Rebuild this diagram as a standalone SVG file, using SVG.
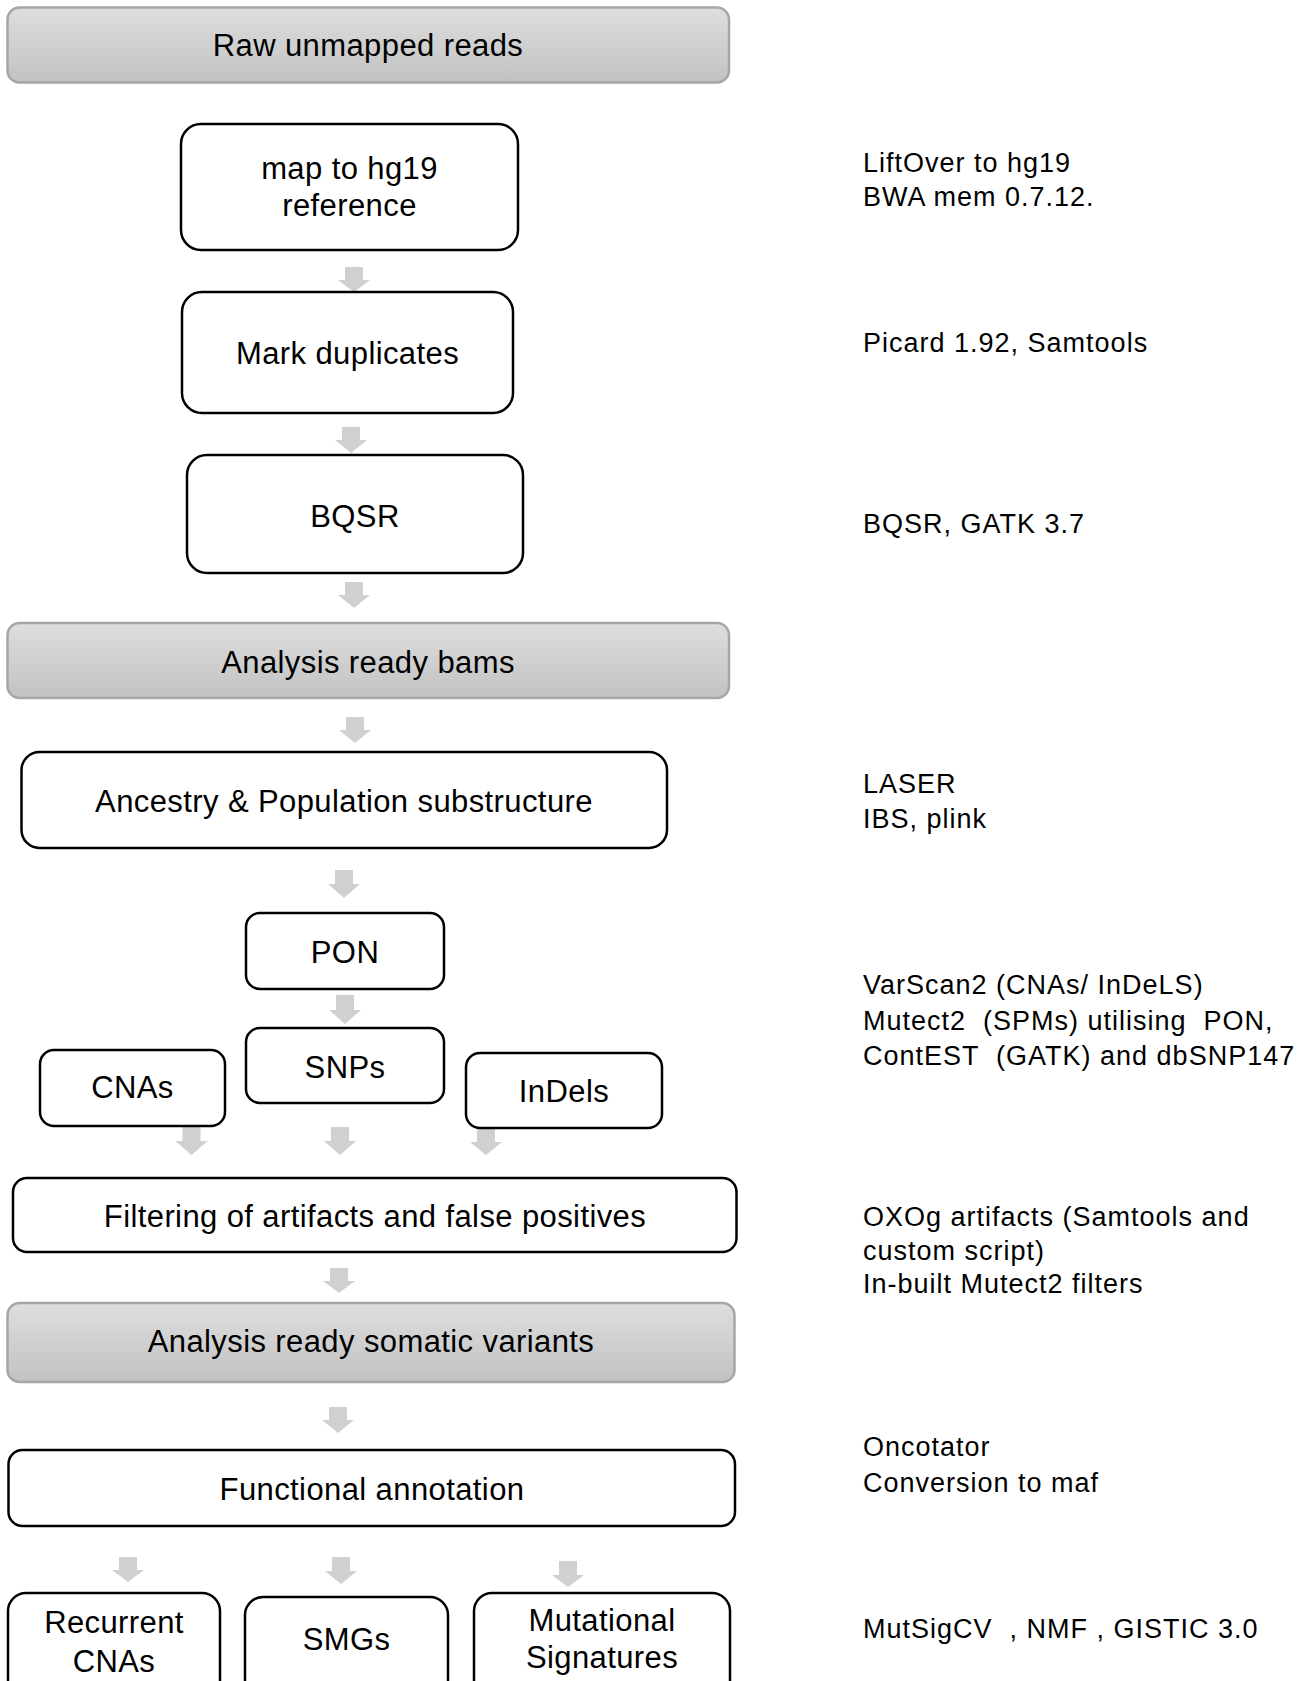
<svg xmlns="http://www.w3.org/2000/svg" width="1308" height="1681" viewBox="0 0 1308 1681">
<defs>
<linearGradient id="gray" x1="0" y1="0" x2="0" y2="1">
<stop offset="0" stop-color="#dedede"/>
<stop offset="1" stop-color="#c2c2c2"/>
</linearGradient>
<style>
.hdr{fill:url(#gray);stroke:#a6a6a6;stroke-width:2.5}
.box{fill:#ffffff;stroke:#000000;stroke-width:2.5}
.lbl{font-family:"Liberation Sans",Arial,sans-serif;font-size:31px;fill:#000;text-anchor:middle;letter-spacing:0.4px}
.note{font-family:"Liberation Sans",Arial,sans-serif;font-size:27px;fill:#000;letter-spacing:1px;white-space:pre}
.arr{fill:#d0d0d0}
</style>
</defs>
<rect width="1308" height="1681" fill="#ffffff"/>

<g id="connectors">
<path class="arr" d="M345,267 H363 V280 H370 L354,292 L338,280 H345 Z"/>
<path class="arr" d="M342,427 H360 V440 H367 L351,453 L335,440 H342 Z"/>
<path class="arr" d="M345,582 H363 V595 H370 L354,608 L338,595 H345 Z"/>
<path class="arr" d="M346,717 H364 V730 H371 L355,743 L339,730 H346 Z"/>
<path class="arr" d="M335,870 H353 V884 H360 L344,898 L328,884 H335 Z"/>
<path class="arr" d="M336,995 H354 V1010 H361 L345,1024 L329,1010 H336 Z"/>
<path class="arr" d="M182.5,1127 H200.5 V1141 H207.5 L191.5,1155 L175.5,1141 H182.5 Z"/>
<path class="arr" d="M331,1127 H349 V1141 H356 L340,1155 L324,1141 H331 Z"/>
<path class="arr" d="M477,1128 H495 V1142 H502 L486,1155 L470,1142 H477 Z"/>
<path class="arr" d="M330,1268 H348 V1281 H355 L339,1293 L323,1281 H330 Z"/>
<path class="arr" d="M329,1407 H347 V1420 H354 L338,1433 L322,1420 H329 Z"/>
<path class="arr" d="M119,1557 H137 V1570 H144 L128,1582 L112,1570 H119 Z"/>
<path class="arr" d="M332,1557 H350 V1571 H357 L341,1584 L325,1571 H332 Z"/>
<path class="arr" d="M559,1561 H577 V1575 H584 L568,1587 L552,1575 H559 Z"/>
</g>

<g id="raw">
<rect class="hdr" x="7.5" y="7.5" width="721.5" height="75" rx="12"/>
<text class="lbl" x="368" y="56">Raw unmapped reads</text>
</g>
<g id="map">
<rect class="box" x="181" y="124" width="337" height="126" rx="20"/>
<text class="lbl" x="349.5" y="179">map to hg19</text>
<text class="lbl" x="349.5" y="216">reference</text>
</g>
<g id="markdup">
<rect class="box" x="182" y="292" width="331" height="121" rx="20"/>
<text class="lbl" x="347.5" y="364">Mark duplicates</text>
</g>
<g id="bqsr">
<rect class="box" x="187" y="455" width="336" height="118" rx="20"/>
<text class="lbl" x="355" y="527">BQSR</text>
</g>
<g id="bams">
<rect class="hdr" x="7.5" y="623" width="721.5" height="75" rx="12"/>
<text class="lbl" x="368" y="673">Analysis ready bams</text>
</g>
<g id="ancestry">
<rect class="box" x="21.5" y="752" width="645.5" height="96" rx="18"/>
<text class="lbl" x="344" y="812">Ancestry &amp; Population substructure</text>
</g>
<g id="pon">
<rect class="box" x="246" y="913" width="198" height="76" rx="14"/>
<text class="lbl" x="345" y="963">PON</text>
</g>
<g id="snps">
<rect class="box" x="246" y="1028" width="198" height="75" rx="14"/>
<text class="lbl" x="345" y="1078">SNPs</text>
</g>
<g id="cnas">
<rect class="box" x="40" y="1050" width="185" height="76" rx="14"/>
<text class="lbl" x="132.5" y="1098">CNAs</text>
</g>
<g id="indels">
<rect class="box" x="466" y="1053" width="196" height="75" rx="14"/>
<text class="lbl" x="564" y="1102">InDels</text>
</g>
<g id="filtering">
<rect class="box" x="13" y="1178" width="723.5" height="74" rx="14"/>
<text class="lbl" x="375" y="1227">Filtering of artifacts and false positives</text>
</g>
<g id="somatic">
<rect class="hdr" x="7.5" y="1303" width="727" height="79" rx="12"/>
<text class="lbl" x="371" y="1352">Analysis ready somatic variants</text>
</g>
<g id="functional">
<rect class="box" x="8.5" y="1450" width="726.5" height="76" rx="14"/>
<text class="lbl" x="372" y="1500">Functional annotation</text>
</g>
<g id="recurrent">
<rect class="box" x="8" y="1593" width="212" height="130" rx="18"/>
<text class="lbl" x="114" y="1633">Recurrent</text>
<text class="lbl" x="114" y="1672">CNAs</text>
</g>
<g id="smgs">
<rect class="box" x="245" y="1597" width="203" height="130" rx="18"/>
<text class="lbl" x="346.5" y="1650">SMGs</text>
</g>
<g id="mutsig">
<rect class="box" x="474" y="1593" width="256" height="130" rx="18"/>
<text class="lbl" x="602" y="1631">Mutational</text>
<text class="lbl" x="602" y="1668">Signatures</text>
</g>

<g id="notes">
<text class="note" x="863" y="172">LiftOver to hg19</text>
<text class="note" x="863" y="206">BWA mem 0.7.12.</text>
<text class="note" x="863" y="352">Picard 1.92, Samtools</text>
<text class="note" x="863" y="533">BQSR, GATK 3.7</text>
<text class="note" x="863" y="793">LASER</text>
<text class="note" x="863" y="828">IBS, plink</text>
<text class="note" x="863" y="994">VarScan2 (CNAs/ InDeLS)</text>
<text class="note" x="863" y="1030">Mutect2  (SPMs) utilising  PON,</text>
<text class="note" x="863" y="1065">ContEST  (GATK) and dbSNP147</text>
<text class="note" x="863" y="1226">OXOg artifacts (Samtools and</text>
<text class="note" x="863" y="1260">custom script)</text>
<text class="note" x="863" y="1293">In-built Mutect2 filters</text>
<text class="note" x="863" y="1456">Oncotator</text>
<text class="note" x="863" y="1492">Conversion to maf</text>
<text class="note" x="863" y="1638">MutSigCV  , NMF , GISTIC 3.0</text>
</g>
</svg>
